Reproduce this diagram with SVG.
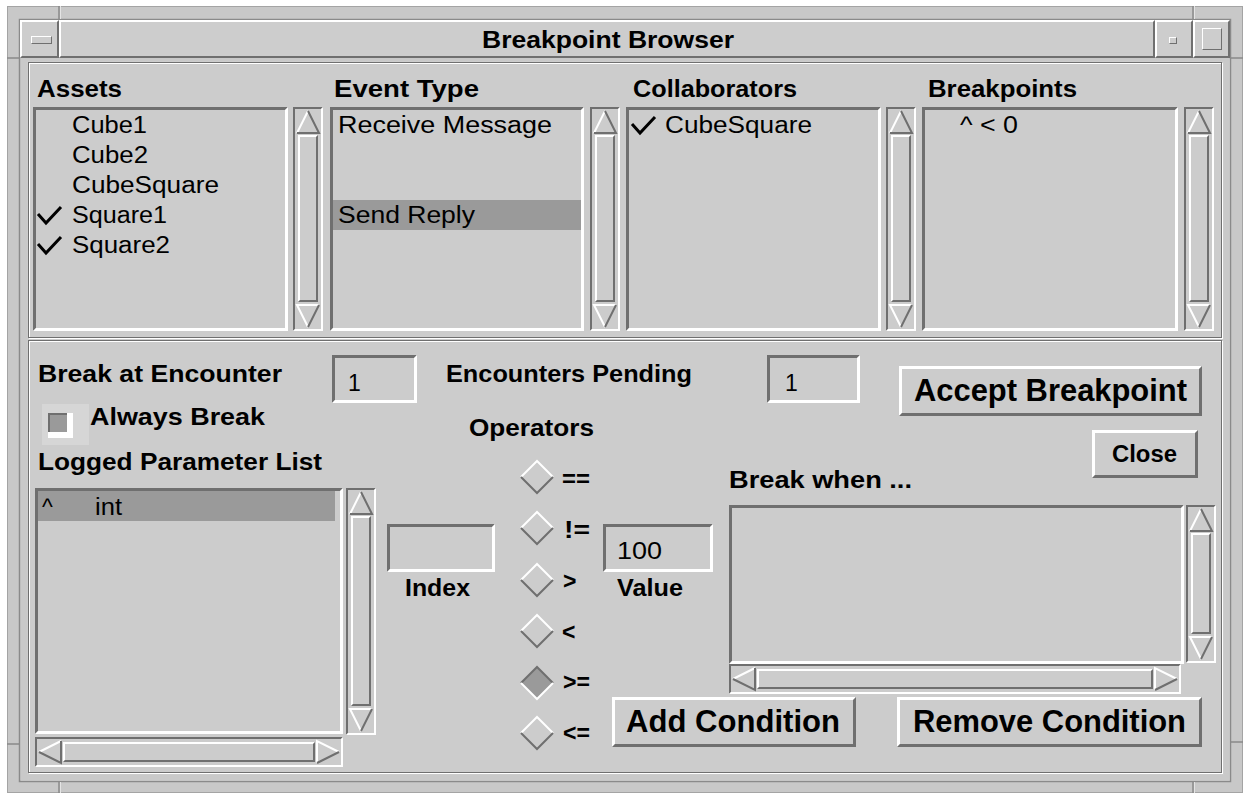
<svg xmlns="http://www.w3.org/2000/svg" xmlns:xlink="http://www.w3.org/1999/xlink" width="1248" height="793" viewBox="0 0 1248 793">
<style>
.bg{fill:#cccccc}
.d{fill:#6f6f6f}
.l{fill:#ffffff}
.sel{fill:#9a9a9a}
.ln{fill:none;stroke-width:2}
.lw{stroke:#ffffff}
.ld{stroke:#6f6f6f}
.t{font-family:"Liberation Sans",Arial,Helvetica,sans-serif;fill:#000;font-size:23px}
.b{font-weight:bold}
.big{font-size:31px}
.chk{fill:none;stroke:#000;stroke-width:3}
</style>
<defs>
<g id="upA"><polygon class="bg" points="15,4 4,26 26,26"/><polyline class="ln lw" points="15,4 4,26"/><polyline class="ln ld" points="4,26 26,26 15,4"/></g>
<g id="dnA"><polygon class="bg" points="4,0 26,0 15,22"/><polyline class="ln lw" points="15,22 4,0 26,0"/><polyline class="ln ld" points="26,0 15,22"/></g>
<g id="ltA"><polygon class="bg" points="4,15 26,4 26,26"/><polyline class="ln lw" points="26,4 4,15"/><polyline class="ln ld" points="4,15 26,26 26,4"/></g>
<g id="rtA"><polygon class="bg" points="0,4 22,15 0,26"/><polyline class="ln lw" points="0,26 0,4 22,15"/><polyline class="ln ld" points="22,15 0,26"/></g>
<g id="rOff"><polygon class="bg" points="-16,0 0,-16 16,0 0,16"/><polyline class="ln lw" points="-16,0 0,-16 16,0"/><polyline class="ln ld" points="-16,0 0,16 16,0"/></g>
<g id="rOn"><polygon class="sel" points="-16,0 0,-16 16,0 0,16"/><polyline class="ln ld" points="-16,0 0,-16 16,0"/><polyline class="ln lw" points="-16,0 0,16 16,0"/></g>
</defs>

<rect x="0" y="0" width="1248" height="793" fill="#ffffff"/>

<g id="window-frame">
<rect x="7" y="6" width="1236" height="787" fill="#c8c8c8"/>
<rect x="7.5" y="6.5" width="1235" height="786" fill="none" stroke="#a4a4a4"/>
<rect x="19.5" y="19.5" width="1211" height="762" fill="none" stroke="#8a8a8a" stroke-width="1.5"/>
<g stroke="#8a8a8a" stroke-width="1.5">
<line x1="59" y1="6" x2="59" y2="20"/><line x1="1193" y1="6" x2="1193" y2="20"/>
<line x1="59" y1="781" x2="59" y2="793"/><line x1="1193" y1="781" x2="1193" y2="793"/>
<line x1="7" y1="58" x2="20" y2="58"/><line x1="1230" y1="58" x2="1243" y2="58"/>
<line x1="7" y1="744" x2="20" y2="744"/><line x1="1230" y1="742" x2="1243" y2="742"/>
</g>
<g stroke="#e4e4e4" stroke-width="1">
<line x1="60.5" y1="6" x2="60.5" y2="19"/><line x1="1194.5" y1="6" x2="1194.5" y2="19"/>
<line x1="60.5" y1="782" x2="60.5" y2="793"/><line x1="1194.5" y1="782" x2="1194.5" y2="793"/>
</g>
</g>

<g id="titlebar">
<rect x="20" y="20" width="1210" height="38" fill="#cdcdcd"/>
<g id="menu-button">
<path class="l" d="M20,20 H59 L57,22 H22 V56 L20,58 Z"/>
<path class="d" d="M59,20 V58 H20 L22,56 H57 V22 Z"/>
<rect x="31" y="36" width="21" height="8" class="bg"/>
<path class="l" d="M31,36 H52 L51,37 H32 V43 L31,44 Z"/>
<path class="d" d="M52,36 V44 H31 L32,43 H51 V37 Z"/>
</g>
<g id="title">
<path class="l" d="M59,20 H1155 L1153,22 H61 V56 L59,58 Z"/>
<path class="d" d="M1155,20 V58 H59 L61,56 H1153 V22 Z"/>
<text class="t b" x="482" y="48" font-size="24" textLength="252" lengthAdjust="spacingAndGlyphs">Breakpoint Browser</text>
</g>
<g id="minimize-button">
<path class="l" d="M1155,20 H1193 L1191,22 H1157 V56 L1155,58 Z"/>
<path class="d" d="M1193,20 V58 H1155 L1157,56 H1191 V22 Z"/>
<path class="l" d="M1169,37 H1177 L1176,38 H1170 V43 L1169,44 Z"/>
<path class="d" d="M1177,37 V44 H1169 L1170,43 H1176 V38 Z"/>
</g>
<g id="maximize-button">
<path class="l" d="M1193,20 H1230 L1228,22 H1195 V56 L1193,58 Z"/>
<path class="d" d="M1230,20 V58 H1193 L1195,56 H1228 V22 Z"/>
<path class="l" d="M1202,28 H1222 L1221,29 H1203 V49 L1202,50 Z"/>
<path class="d" d="M1222,28 V50 H1202 L1203,49 H1221 V29 Z"/>
</g>
</g>

<g id="content">
<rect x="20.75" y="58.75" width="1209" height="722" fill="#c9c9c9"/>
<rect x="27" y="61" width="1197" height="714" class="bg"/>
<rect x="29.5" y="63.5" width="1193" height="275" fill="none" stroke="#ffffff"/>
<rect x="28.5" y="62.5" width="1193" height="275" fill="none" stroke="#6f6f6f"/>
<rect x="29.5" y="341.5" width="1193" height="432" fill="none" stroke="#ffffff"/>
<rect x="28.5" y="340.5" width="1193" height="432" fill="none" stroke="#6f6f6f"/>
</g>

<g id="assets">
<text class="t b" x="37" y="97" font-size="22" textLength="85" lengthAdjust="spacingAndGlyphs">Assets</text>
<g transform="translate(33,107)">
<path class="d" d="M0,0 H255 L252,3 H3 V221 L0,224 Z"/>
<path class="l" d="M255,0 V224 H0 L3,221 H252 V3 Z"/>
</g>
<text class="t" x="72" y="133" textLength="75" lengthAdjust="spacingAndGlyphs">Cube1</text>
<text class="t" x="72" y="163" textLength="76" lengthAdjust="spacingAndGlyphs">Cube2</text>
<text class="t" x="72" y="193" textLength="147" lengthAdjust="spacingAndGlyphs">CubeSquare</text>
<text class="t" x="72" y="223" textLength="95" lengthAdjust="spacingAndGlyphs">Square1</text>
<text class="t" x="72" y="253" textLength="98" lengthAdjust="spacingAndGlyphs">Square2</text>
<path class="chk" d="M38,214 L46,223 L61,207"/>
<path class="chk" d="M38,244 L46,253 L61,237"/>
<g transform="translate(293,107)">
<path class="d" d="M0,0 H30 L28,2 H2 V222 L0,224 Z"/>
<path class="l" d="M30,0 V224 H0 L2,222 H28 V2 Z"/>
<use xlink:href="#upA"/>
<path class="l" d="M5,28 H25 L23,30 H7 V193 L5,195 Z"/>
<path class="d" d="M25,28 V195 H5 L7,193 H23 V30 Z"/>
<use xlink:href="#dnA" y="198"/>
</g>
</g>

<g id="event-type">
<text class="t b" x="334" y="97" font-size="22" textLength="145" lengthAdjust="spacingAndGlyphs">Event Type</text>
<g transform="translate(330,107)">
<path class="d" d="M0,0 H254 L251,3 H3 V221 L0,224 Z"/>
<path class="l" d="M254,0 V224 H0 L3,221 H251 V3 Z"/>
</g>
<rect class="sel" x="333" y="200" width="248" height="30"/>
<text class="t" x="338" y="133" textLength="214" lengthAdjust="spacingAndGlyphs">Receive Message</text>
<text class="t" x="338" y="223" textLength="137" lengthAdjust="spacingAndGlyphs">Send Reply</text>
<g transform="translate(590,107)">
<path class="d" d="M0,0 H30 L28,2 H2 V222 L0,224 Z"/>
<path class="l" d="M30,0 V224 H0 L2,222 H28 V2 Z"/>
<use xlink:href="#upA"/>
<path class="l" d="M5,28 H25 L23,30 H7 V193 L5,195 Z"/>
<path class="d" d="M25,28 V195 H5 L7,193 H23 V30 Z"/>
<use xlink:href="#dnA" y="198"/>
</g>
</g>

<g id="collaborators">
<text class="t b" x="633" y="97" font-size="22" textLength="164" lengthAdjust="spacingAndGlyphs">Collaborators</text>
<g transform="translate(626,107)">
<path class="d" d="M0,0 H255 L252,3 H3 V221 L0,224 Z"/>
<path class="l" d="M255,0 V224 H0 L3,221 H252 V3 Z"/>
</g>
<path class="chk" d="M632,124 L640,133 L655,117"/>
<text class="t" x="665" y="133" textLength="147" lengthAdjust="spacingAndGlyphs">CubeSquare</text>
<g transform="translate(886,107)">
<path class="d" d="M0,0 H30 L28,2 H2 V222 L0,224 Z"/>
<path class="l" d="M30,0 V224 H0 L2,222 H28 V2 Z"/>
<use xlink:href="#upA"/>
<path class="l" d="M5,28 H25 L23,30 H7 V193 L5,195 Z"/>
<path class="d" d="M25,28 V195 H5 L7,193 H23 V30 Z"/>
<use xlink:href="#dnA" y="198"/>
</g>
</g>

<g id="breakpoints">
<text class="t b" x="928" y="97" font-size="22" textLength="149" lengthAdjust="spacingAndGlyphs">Breakpoints</text>
<g transform="translate(922,107)">
<path class="d" d="M0,0 H256 L253,3 H3 V221 L0,224 Z"/>
<path class="l" d="M256,0 V224 H0 L3,221 H253 V3 Z"/>
</g>
<text class="t" x="960" y="133" textLength="58" lengthAdjust="spacingAndGlyphs">^ &lt; 0</text>
<g transform="translate(1184,107)">
<path class="d" d="M0,0 H30 L28,2 H2 V222 L0,224 Z"/>
<path class="l" d="M30,0 V224 H0 L2,222 H28 V2 Z"/>
<use xlink:href="#upA"/>
<path class="l" d="M5,28 H25 L23,30 H7 V193 L5,195 Z"/>
<path class="d" d="M25,28 V195 H5 L7,193 H23 V30 Z"/>
<use xlink:href="#dnA" y="198"/>
</g>
</g>

<g id="break-at-encounter">
<text class="t b" x="38" y="382" textLength="244" lengthAdjust="spacingAndGlyphs">Break at Encounter</text>
<rect class="bg" x="332" y="355" width="85" height="48"/>
<path class="d" d="M332,355 H417 L414,358 H335 V400 L332,403 Z"/>
<path class="l" d="M417,355 V403 H332 L335,400 H414 V358 Z"/>
<text class="t" x="348" y="391">1</text>
</g>

<g id="always-break">
<rect x="42" y="404" width="47" height="41" fill="#d6d6d6"/>
<rect class="l" x="48" y="413" width="25" height="25"/>
<rect class="sel" x="48" y="413" width="19" height="19"/>
<path class="d" d="M48,413 H67 V415 H50 V432 H48 Z"/>
<text class="t b" x="90" y="425" textLength="175" lengthAdjust="spacingAndGlyphs">Always Break</text>
</g>

<g id="logged-parameter-list">
<text class="t b" x="38" y="470" textLength="284" lengthAdjust="spacingAndGlyphs">Logged Parameter List</text>
<path class="d" d="M35,488 H343 L340,491 H38 V731 L35,734 Z"/>
<path class="l" d="M343,488 V734 H35 L38,731 H340 V491 Z"/>
<rect class="sel" x="38" y="491" width="297" height="30"/>
<text class="t" x="42" y="515">^</text>
<text class="t" x="95" y="515" textLength="27" lengthAdjust="spacingAndGlyphs">int</text>
<g transform="translate(346,488)">
<path class="d" d="M0,0 H30 L28,2 H2 V245 L0,247 Z"/>
<path class="l" d="M30,0 V247 H0 L2,245 H28 V2 Z"/>
<use xlink:href="#upA"/>
<path class="l" d="M5,28 H25 L23,30 H7 V216 L5,218 Z"/>
<path class="d" d="M25,28 V218 H5 L7,216 H23 V30 Z"/>
<use xlink:href="#dnA" y="221"/>
</g>
<g transform="translate(35,737)">
<path class="d" d="M0,0 H308 L306,2 H2 V28 L0,30 Z"/>
<path class="l" d="M308,0 V30 H0 L2,28 H306 V2 Z"/>
<use xlink:href="#ltA"/>
<path class="l" d="M28,5 H280 L278,7 H30 V23 L28,25 Z"/>
<path class="d" d="M280,5 V25 H28 L30,23 H278 V7 Z"/>
<use xlink:href="#rtA" x="282"/>
</g>
</g>

<g id="index">
<path class="d" d="M387,524 H495 L492,527 H390 V569 L387,572 Z"/>
<path class="l" d="M495,524 V572 H387 L390,569 H492 V527 Z"/>
<text class="t b" x="405" y="596" textLength="65" lengthAdjust="spacingAndGlyphs">Index</text>
</g>

<g id="encounters-pending">
<text class="t b" x="446" y="382" textLength="246" lengthAdjust="spacingAndGlyphs">Encounters Pending</text>
<path class="d" d="M767,355 H860 L857,358 H770 V400 L767,403 Z"/>
<path class="l" d="M860,355 V403 H767 L770,400 H857 V358 Z"/>
<text class="t" x="785" y="391">1</text>
</g>

<g id="operators">
<text class="t b" x="469" y="436" textLength="125" lengthAdjust="spacingAndGlyphs">Operators</text>
<use xlink:href="#rOff" x="537" y="477"/>
<use xlink:href="#rOff" x="537" y="528"/>
<use xlink:href="#rOff" x="537" y="580"/>
<use xlink:href="#rOff" x="537" y="631"/>
<use xlink:href="#rOn" x="537" y="683"/>
<use xlink:href="#rOff" x="537" y="733"/>
<text class="t b" x="562" y="487" font-size="22" textLength="28" lengthAdjust="spacingAndGlyphs">==</text>
<text class="t b" x="564" y="538" font-size="22" textLength="26" lengthAdjust="spacingAndGlyphs">!=</text>
<text class="t b" x="563" y="589" font-size="22">&gt;</text>
<text class="t b" x="562" y="640" font-size="22">&lt;</text>
<text class="t b" x="563" y="690" font-size="22" textLength="27" lengthAdjust="spacingAndGlyphs">&gt;=</text>
<text class="t b" x="563" y="741" font-size="22" textLength="27" lengthAdjust="spacingAndGlyphs">&lt;=</text>
</g>

<g id="value">
<path class="d" d="M603,524 H713 L710,527 H606 V569 L603,572 Z"/>
<path class="l" d="M713,524 V572 H603 L606,569 H710 V527 Z"/>
<text class="t" x="617" y="559" textLength="45" lengthAdjust="spacingAndGlyphs">100</text>
<text class="t b" x="617" y="596" textLength="66" lengthAdjust="spacingAndGlyphs">Value</text>
</g>

<g id="accept-breakpoint">
<path class="l" d="M899,366 H1202 L1199,369 H902 V413 L899,416 Z"/>
<path class="d" d="M1202,366 V416 H899 L902,413 H1199 V369 Z"/>
<text class="t b big" x="914" y="401" textLength="273" lengthAdjust="spacingAndGlyphs">Accept Breakpoint</text>
</g>

<g id="close">
<path class="l" d="M1092,430 H1198 L1195,433 H1095 V475 L1092,478 Z"/>
<path class="d" d="M1198,430 V478 H1092 L1095,475 H1195 V433 Z"/>
<text class="t b" x="1112" y="462" textLength="65" lengthAdjust="spacingAndGlyphs">Close</text>
</g>

<g id="break-when">
<text class="t b" x="729" y="488" textLength="183" lengthAdjust="spacingAndGlyphs">Break when ...</text>
<path class="d" d="M729,505 H1184 L1181,508 H732 V661 L729,664 Z"/>
<path class="l" d="M1184,505 V664 H729 L732,661 H1181 V508 Z"/>
<g transform="translate(1186,505)">
<path class="d" d="M0,0 H30 L28,2 H2 V156 L0,158 Z"/>
<path class="l" d="M30,0 V158 H0 L2,156 H28 V2 Z"/>
<use xlink:href="#upA"/>
<path class="l" d="M5,28 H25 L23,30 H7 V127 L5,129 Z"/>
<path class="d" d="M25,28 V129 H5 L7,127 H23 V30 Z"/>
<use xlink:href="#dnA" y="132"/>
</g>
<g transform="translate(729,664)">
<path class="d" d="M0,0 H452 L450,2 H2 V28 L0,30 Z"/>
<path class="l" d="M452,0 V30 H0 L2,28 H450 V2 Z"/>
<use xlink:href="#ltA"/>
<path class="l" d="M28,5 H424 L422,7 H30 V23 L28,25 Z"/>
<path class="d" d="M424,5 V25 H28 L30,23 H422 V7 Z"/>
<use xlink:href="#rtA" x="426"/>
</g>
</g>

<g id="add-condition">
<path class="l" d="M612,697 H856 L853,700 H615 V744 L612,747 Z"/>
<path class="d" d="M856,697 V747 H612 L615,744 H853 V700 Z"/>
<text class="t b big" x="626" y="732" textLength="214" lengthAdjust="spacingAndGlyphs">Add Condition</text>
</g>

<g id="remove-condition">
<path class="l" d="M897,697 H1202 L1199,700 H900 V744 L897,747 Z"/>
<path class="d" d="M1202,697 V747 H897 L900,744 H1199 V700 Z"/>
<text class="t b big" x="913" y="732" textLength="273" lengthAdjust="spacingAndGlyphs">Remove Condition</text>
</g>

<g id="connectors"></g>
</svg>
